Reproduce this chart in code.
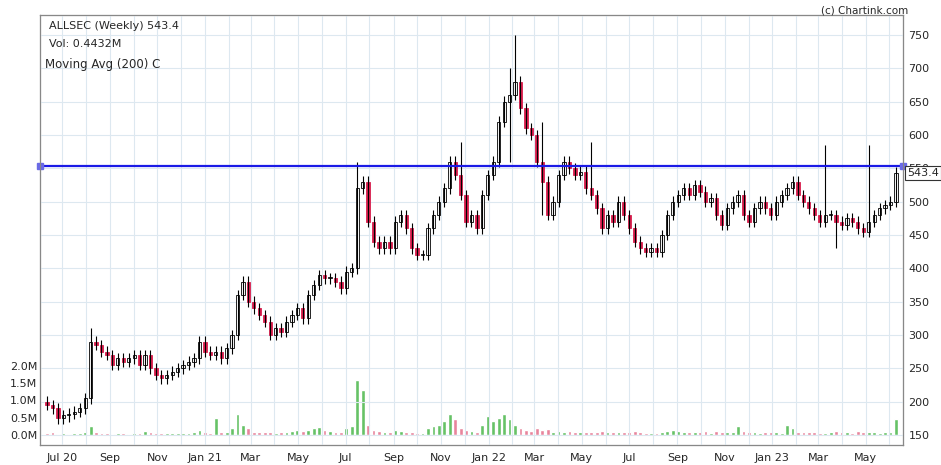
import numpy as np, pandas as pd, matplotlib
matplotlib.use("Agg")
import matplotlib.pyplot as plt, seaborn as sns

closes = [195,190,175,180, 182,185,190,205,290, 285,275,270,255,265, 260,265,270,255,
          270,250,240,235, 240,245,250,255, 260,265,290,275,270, 275,265,280,300,
          360,380,350,340, 330,320,300,310, 305,320,330,340, 325,360,375,390,385,
          385,380,370,395,400, 520,530,470,440,430, 440,430,470,480, 460,430,420,420,
          460,480,500,520,560, 540,510,470,480,460, 510,540,560,620,650, 660,680,640,610,
          600,560,530,480,500, 540,560,550,540, 545,520,510,490, 460,480,470,500,
          480,460,440,430,425, 430,425,450,480, 500,510,520,510, 525,515,500,505,
          480,465,490,500, 510,480,470,490,500, 490,480,500,510, 520,530,510,500,
          490,480,470,480, 480,470,465,475,470, 460,455,470,480, 490,495,500,543.4]
first_open = 200
spike_highs = {8: 310, 57: 560, 76: 590, 85: 700, 86: 750, 91: 620, 100: 590, 143: 585, 151: 585}
spike_lows = {4: 170, 85: 560, 91: 480, 145: 430}
volumes = [0.05,0.08,0.03,0.05, 0.04,0.06,0.05,0.08,0.25, 0.1,0.06,0.05,0.04,0.05, 0.05,0.04,0.06,0.05,
           0.12,0.08,0.06,0.05, 0.05,0.06,0.05,0.06, 0.07,0.08,0.15,0.1,0.06, 0.5,0.08,0.1,0.2,
           0.6,0.3,0.2,0.1, 0.1,0.08,0.09,0.07, 0.08,0.1,0.12,0.15, 0.12,0.15,0.2,0.22,0.15,
           0.12,0.1,0.1,0.2,0.25, 1.6,1.3,0.3,0.15,0.12, 0.1,0.1,0.15,0.12, 0.1,0.08,0.07,0.06,
           0.2,0.25,0.3,0.4,0.6, 0.45,0.2,0.15,0.12,0.1, 0.3,0.55,0.4,0.5,0.6, 0.45,0.3,0.2,0.15,
           0.12,0.2,0.15,0.18,0.1, 0.12,0.1,0.12,0.08, 0.08,0.1,0.08,0.1, 0.12,0.1,0.08,0.1,
           0.08,0.1,0.12,0.08,0.06, 0.05,0.06,0.1,0.12, 0.15,0.12,0.1,0.08, 0.1,0.08,0.12,0.06,
           0.12,0.08,0.1,0.08, 0.25,0.12,0.1,0.08,0.06, 0.08,0.1,0.08,0.06, 0.3,0.2,0.1,0.08,
           0.08,0.1,0.06,0.07, 0.1,0.12,0.1,0.08,0.06, 0.12,0.08,0.1,0.08, 0.06,0.08,0.1,0.45]
hline = 553
months = ["Jul 20","Sep","Nov","Jan 21","Mar","May","Jul","Sep","Nov","Jan 22","Mar","May",
          "Jul","Sep","Nov","Jan 23","Mar","May"]

n = len(closes)
dates = pd.date_range("2020-06-12", periods=n, freq="W-FRI")
opens = [first_open] + closes[:-1]
df = pd.DataFrame({"i": np.arange(n), "open": opens, "close": closes, "vol": volumes[:n]})
df["up"] = df.close >= df.open
df["high"] = [spike_highs.get(i, max(o, c) + 8) for i, o, c in zip(df.i, df.open, df.close)]
df["low"] = [spike_lows.get(i, min(o, c) - 8) for i, o, c in zip(df.i, df.open, df.close)]

sns.set_style("white")
plt.rcParams["font.family"] = ["DejaVu Sans"]
fig = plt.figure(figsize=(9.41, 4.65), dpi=100)
ax = fig.add_axes([40/941, 20/465, 863/941, 430/465])
axv = ax.twinx()
axv.set_zorder(0); ax.set_zorder(1); ax.patch.set_visible(False)
axv.yaxis.tick_left()
red, vup, vdn = "#d81e4d", "#66c266", "#e8849c"
axv.bar(df.i, df.vol, width=0.7, color=[vup if u else vdn for u in df.up])
axv.set_ylim(-0.29, 12.17)
axv.set_yticks([0, 0.5, 1.0, 1.5, 2.0])
axv.set_yticklabels(["0.0M", "0.5M", "1.0M", "1.5M", "2.0M"], fontsize=8)
axv.tick_params(axis="y", length=0, pad=2)

ax.vlines(df.i, df.low, df.high, color="black", lw=0.8)
body = (df.close - df.open).abs().clip(lower=1.5)
ax.bar(df.i, body, bottom=df[["open", "close"]].min(axis=1), width=0.6,
       color=["white" if u else red for u in df.up], edgecolor=["black" if u else red for u in df.up], lw=0.6)
ax.axhline(hline, color="#1a1ae6", lw=1.6)
ax.plot([-1.3, n + 0.3], [hline, hline], "s", color="#6a6ae6", ms=5, clip_on=False)
ax.set_ylim(135, 780)
ax.set_xlim(-1.3, n + 0.3)
ax.yaxis.tick_right()
ax.set_yticks(range(150, 751, 50))
ax.tick_params(axis="y", labelsize=8, length=0, pad=4)
mpos = [((pd.Timestamp(f"{y}-{m:02d}-01") - dates[0]).days / 7)
        for y, m in [(2020,7),(2020,9),(2020,11),(2021,1),(2021,3),(2021,5),(2021,7),(2021,9),(2021,11),
                     (2022,1),(2022,3),(2022,5),(2022,7),(2022,9),(2022,11),(2023,1),(2023,3),(2023,5)]]
ax.set_xticks(mpos); ax.set_xticklabels(months, fontsize=8)
ax.set_xticks([p + 4.35 for p in mpos], minor=True)
ax.tick_params(axis="x", length=0, pad=6)
ax.grid(True, which="both", color="#dde8f0", lw=0.8)
axv.grid(False)
for s in ax.spines.values(): s.set_color("#888888"); s.set_linewidth(0.8)
ax.text(0.01, 0.985, "ALLSEC (Weekly) 543.4", transform=ax.transAxes, va="top", fontsize=8)
ax.text(0.01, 0.945, "Vol: 0.4432M", transform=ax.transAxes, va="top", fontsize=8)
ax.text(0.006, 0.9, "Moving Avg (200) C", transform=ax.transAxes, va="top", fontsize=8.5)
fig.text(0.965, 0.988, "(c) Chartink.com", ha="right", va="top", fontsize=7.5)
ax.text(n + 1.0, 543.4, "543.4", va="center", fontsize=8, zorder=10,
        bbox=dict(boxstyle="square,pad=0.2", fc="white", ec="#333333", lw=0.8), clip_on=False)
fig.savefig("out.png", dpi=100)
